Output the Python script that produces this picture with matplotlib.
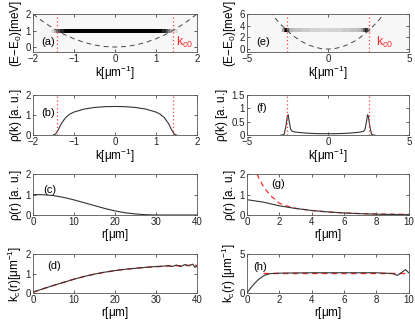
import numpy as np
import matplotlib
matplotlib.use("Agg")
import matplotlib.pyplot as plt
from matplotlib.collections import LineCollection

plt.rcParams['font.family'] = ['Liberation Sans', 'DejaVu Sans']
plt.rcParams['mathtext.fontset'] = 'custom'
plt.rcParams['mathtext.rm'] = 'Liberation Sans'
plt.rcParams['mathtext.it'] = 'Liberation Sans'

# ---------------- data ----------------
# (a) dispersion and condensate line, kc0 = 1.42
k_a = [-2.0, -1.75, -1.5, -1.25, -1.0, -0.75, -0.5, -0.25, 0.0, 0.25, 0.5, 0.75, 1.0, 1.25, 1.5, 1.75, 2.0]
E_a = [2.0, 1.53, 1.125, 0.78, 0.5, 0.28, 0.125, 0.03, 0.0, 0.03, 0.125, 0.28, 0.5, 0.78, 1.125, 1.53, 2.0]
kc0_a = 1.42
E0_a = 1.0

# (b) rho(k)
k_b = [-1.5, -1.45, -1.4, -1.35, -1.3, -1.2, -1.1, -1.0, -0.75, -0.5, -0.25, 0.0,
       0.25, 0.5, 0.75, 1.0, 1.1, 1.2, 1.3, 1.35, 1.4, 1.45, 1.5]
rho_b = [0.0, 0.05, 0.2, 0.4, 0.6, 0.88, 1.05, 1.15, 1.3, 1.38, 1.42, 1.43,
         1.42, 1.38, 1.3, 1.15, 1.05, 0.88, 0.6, 0.4, 0.2, 0.05, 0.0]

# (c) rho(r)
r_c = [0, 2.5, 5, 7.5, 10, 12.5, 15, 17.5, 20, 22.5, 25, 27.5, 30, 35, 40]
rho_c = [1.0, 0.99, 0.95, 0.86, 0.74, 0.6, 0.46, 0.32, 0.2, 0.11, 0.05, 0.015, 0.0, 0.0, 0.0]

# (d) kc(r)
r_d = [0, 2.5, 5, 7.5, 10, 12.5, 15, 17.5, 20, 22.5, 25, 27.5, 30, 31, 32, 33, 34, 35, 36, 37, 38, 39, 39.5, 40]
kc_d = [0.05, 0.22, 0.39, 0.55, 0.71, 0.85, 0.97, 1.07, 1.15, 1.22, 1.27, 1.32, 1.36, 1.37, 1.38, 1.41, 1.36,
        1.44, 1.35, 1.46, 1.41, 1.48, 1.32, 1.38]
r_d_fit = [0, 2.5, 5, 7.5, 10, 12.5, 15, 17.5, 20, 22.5, 25, 27.5, 30, 32.5, 35, 37.5, 40]
kc_d_fit = [0.04, 0.22, 0.39, 0.55, 0.71, 0.85, 0.97, 1.07, 1.15, 1.22, 1.27, 1.32, 1.35, 1.38, 1.4, 1.41, 1.42]

# (e) dispersion and condensate line, kc0 = 2.53
k_e = [-3.6, -3.2, -2.8, -2.4, -2.0, -1.6, -1.2, -0.8, -0.4, 0.0, 0.4, 0.8, 1.2, 1.6, 2.0, 2.4, 2.8, 3.2, 3.6]
E_e = [6.48, 5.12, 3.92, 2.88, 2.0, 1.28, 0.72, 0.32, 0.08, 0.0, 0.08, 0.32, 0.72, 1.28, 2.0, 2.88, 3.92, 5.12, 6.48]
kc0_e = 2.53
E0_e = 3.2

# (f) rho(k)
k_f = [-2.9, -2.8, -2.7, -2.6, -2.5, -2.45, -2.4, -2.3, -2.2, -2.0, -1.5, -1.0, -0.5, 0.0,
       0.5, 1.0, 1.5, 2.0, 2.2, 2.3, 2.4, 2.45, 2.5, 2.6, 2.7, 2.8, 2.9]
rho_f = [0.0, 0.0, 0.03, 0.3, 0.72, 0.76, 0.55, 0.22, 0.14, 0.11, 0.08, 0.06, 0.05, 0.05,
         0.05, 0.06, 0.08, 0.11, 0.14, 0.22, 0.55, 0.76, 0.72, 0.3, 0.03, 0.0, 0.0]

# (g) rho(r)
r_g = [0, 1, 2, 3, 4, 5, 6, 7, 8, 9, 10]
rho_g = [0.75, 0.63, 0.45, 0.32, 0.22, 0.15, 0.1, 0.065, 0.04, 0.025, 0.015]
r_g_fit = [0.62, 0.8, 1.0, 1.25, 1.5, 2.0, 2.5, 3, 4, 5, 6, 7, 8, 9, 10]
rho_g_fit = [2.0, 1.7, 1.42, 1.15, 0.92, 0.58, 0.43, 0.33, 0.22, 0.15, 0.1, 0.07, 0.05, 0.04, 0.03]

# (h) kc(r)
r_h = [0, 0.25, 0.5, 0.75, 1.0, 1.25, 1.5, 2.0, 3, 4, 5, 6, 7, 8, 8.5, 9.0, 9.3, 9.6, 9.8, 10]
kc_h = [0.0, 0.7, 1.3, 1.8, 2.17, 2.4, 2.5, 2.55, 2.58, 2.6, 2.6, 2.6, 2.6, 2.6, 2.55, 2.5, 2.26, 2.7, 3.0, 2.6]
r_h_fit = [1.0, 10.0]
kc_h_fit = [2.55, 2.55]

# ---------------- drawing ----------------
fig = plt.figure(figsize=(4.15, 3.22), dpi=100)

L, R = 0.0795, 0.595
W = 0.395
rows = [(0.8385, 0.118), (0.5807, 0.124), (0.3323, 0.127), (0.090, 0.121)]

BLK = '#333333'
RED = '#ff2a2a'
PINK = '#ff4040'
TF = 7
LF = 8.5


def style(ax):
    ax.tick_params(direction='in', top=True, right=True, length=2.5, width=0.5,
                   labelsize=TF, pad=1.5, colors='#222222')
    for s in ax.spines.values():
        s.set_linewidth(0.6)
        s.set_color('#555555')


def cond_line(ax, k, rho, E0, norm, gamma, lw):
    segs = [[(k[i], E0), (k[i + 1], E0)] for i in range(len(k) - 1)]
    vals = [min(1.0, (rho[i] + rho[i + 1]) / 2 / norm) ** gamma for i in range(len(k) - 1)]
    cols = [plt.cm.gray_r(0.04 + 0.96 * v) for v in vals]
    lc = LineCollection(segs, colors=cols, linewidths=lw, capstyle='projecting',
                        antialiaseds=False, zorder=1)
    ax.add_collection(lc)


def kc_lines(ax, kc):
    for kk in (-kc, kc):
        ax.axvline(kk, ls=(0, (1, 2)), color=PINK, lw=0.9, zorder=3)


# (a)
ax = fig.add_axes([L, rows[0][0], W, rows[0][1]])
ax.set_facecolor('#f7f7f7')
cond_line(ax, k_b, rho_b, E0_a, 1.0, 0.6, 1.5)
ax.plot(k_a, E_a, ls=(0, (5, 4)), color='#444444', lw=0.7, zorder=2)
kc_lines(ax, kc0_a)
ax.set_xlim(-2, 2); ax.set_ylim(-0.3, 2)
ax.set_xticks([-2, -1, 0, 1, 2]); ax.set_yticks([0, 1, 2])
ax.set_xlabel(r'k[$\mu$m$^{-1}$]', fontsize=LF, labelpad=0)
ax.set_ylabel(r'(E$-$E$_0$)[meV]', fontsize=LF, labelpad=1)
ax.text(-1.8, 0.3, '(a)', fontsize=8, va='center')
ax.text(1.48, 0.3, r'k$_{\mathrm{c0}}$', fontsize=9, color=RED, va='center')
style(ax)

# (b)
ax = fig.add_axes([L, rows[1][0], W, rows[1][1]])
ax.plot(k_b, rho_b, color=BLK, lw=0.8)
kc_lines(ax, kc0_a)
ax.set_xlim(-2, 2); ax.set_ylim(0, 2)
ax.set_xticks([-2, -1, 0, 1, 2]); ax.set_yticks([0, 1, 2])
ax.set_xlabel(r'k[$\mu$m$^{-1}$]', fontsize=LF, labelpad=0)
ax.set_ylabel(r'$\rho$(k) [a. u.]', fontsize=LF, labelpad=1)
ax.text(-1.8, 1.1, '(b)', fontsize=8, va='center')
style(ax)

# (c)
ax = fig.add_axes([L, rows[2][0], W, rows[2][1]])
ax.plot(r_c, rho_c, color=BLK, lw=0.8)
ax.set_xlim(0, 40); ax.set_ylim(0, 2)
ax.set_xticks([0, 10, 20, 30, 40]); ax.set_yticks([0, 1, 2])
ax.set_xlabel(r'r[$\mu$m]', fontsize=LF, labelpad=0)
ax.set_ylabel(r'$\rho$(r) [a. u.]', fontsize=LF, labelpad=1)
ax.text(2.5, 1.2, '(c)', fontsize=8, va='center')
style(ax)

# (d)
ax = fig.add_axes([L, rows[3][0], W, rows[3][1]])
ax.plot(r_d_fit, kc_d_fit, ls=(0, (4, 3)), color=RED, lw=1.0)
ax.plot(r_d, kc_d, color=BLK, lw=0.8)
ax.set_xlim(0, 40); ax.set_ylim(0, 2)
ax.set_xticks([0, 10, 20, 30, 40]); ax.set_yticks([0, 1, 2])
ax.set_xlabel(r'r[$\mu$m]', fontsize=LF, labelpad=0)
ax.set_ylabel(r'k$_\mathrm{c}$(r)[$\mu$m$^{-1}$]', fontsize=LF, labelpad=1)
ax.text(3.5, 1.38, '(d)', fontsize=8, va='center')
style(ax)

# (e)
ax = fig.add_axes([R, rows[0][0], W - 0.005, rows[0][1]])
ax.set_facecolor('#f7f7f7')
cond_line(ax, k_f, rho_f, E0_e, 0.76, 0.75, 1.5)
ax.plot(k_e, E_e, ls=(0, (5, 4)), color='#444444', lw=0.7, zorder=2)
kc_lines(ax, kc0_e)
ax.set_xlim(-5, 5); ax.set_ylim(-0.5, 6)
ax.set_xticks([-5, 0, 5]); ax.set_yticks([0, 2, 4, 6])
ax.set_xlabel(r'k[$\mu$m$^{-1}$]', fontsize=LF, labelpad=0)
ax.set_ylabel(r'(E$-$E$_0$)[meV]', fontsize=LF, labelpad=1)
ax.text(-4.4, 1.2, '(e)', fontsize=8, va='center')
ax.text(2.95, 1.2, r'k$_{\mathrm{c0}}$', fontsize=9, color=RED, va='center')
style(ax)

# (f)
ax = fig.add_axes([R, rows[1][0], W - 0.005, rows[1][1]])
ax.plot(k_f, rho_f, color=BLK, lw=0.8)
kc_lines(ax, kc0_e)
ax.set_xlim(-5, 5); ax.set_ylim(0, 1.5)
ax.set_xticks([-5, 0, 5]); ax.set_yticks([0, 0.5, 1, 1.5])
ax.set_yticklabels(['0', '0.5', '1', '1.5'])
ax.set_xlabel(r'k[$\mu$m$^{-1}$]', fontsize=LF, labelpad=0)
ax.set_ylabel(r'$\rho$(k) [a. u.]', fontsize=LF, labelpad=1)
ax.text(-4.4, 1.0, '(f)', fontsize=8, va='center')
style(ax)

# (g)
ax = fig.add_axes([R, rows[2][0], W - 0.005, rows[2][1]])
ax.plot(r_g_fit, rho_g_fit, ls=(0, (4, 3)), color=RED, lw=0.9)
ax.plot(r_g, rho_g, color=BLK, lw=0.8)
ax.set_xlim(0, 10); ax.set_ylim(0, 2)
ax.set_xticks([0, 2, 4, 6, 8, 10]); ax.set_yticks([0, 1, 2])
ax.set_xlabel(r'r[$\mu$m]', fontsize=LF, labelpad=0)
ax.set_ylabel(r'$\rho$(r) [a. u.]', fontsize=LF, labelpad=1)
ax.text(1.5, 1.5, '(g)', fontsize=8, va='center')
style(ax)

# (h)
ax = fig.add_axes([R, rows[3][0], W - 0.005, rows[3][1]])
ax.plot(r_h_fit, kc_h_fit, ls=(0, (4, 3)), color=RED, lw=1.0)
ax.plot(r_h, kc_h, color=BLK, lw=0.8)
ax.set_xlim(0, 10); ax.set_ylim(0, 5)
ax.set_xticks([0, 2, 4, 6, 8, 10]); ax.set_yticks([0, 5])
ax.set_xlabel(r'r[$\mu$m]', fontsize=LF, labelpad=0)
ax.set_ylabel(r'k$_\mathrm{c}$(r) [$\mu$m$^{-1}$]', fontsize=LF, labelpad=1)
ax.text(0.4, 3.4, '(h)', fontsize=8, va='center')
style(ax)

fig.savefig('out.png', dpi=100)
